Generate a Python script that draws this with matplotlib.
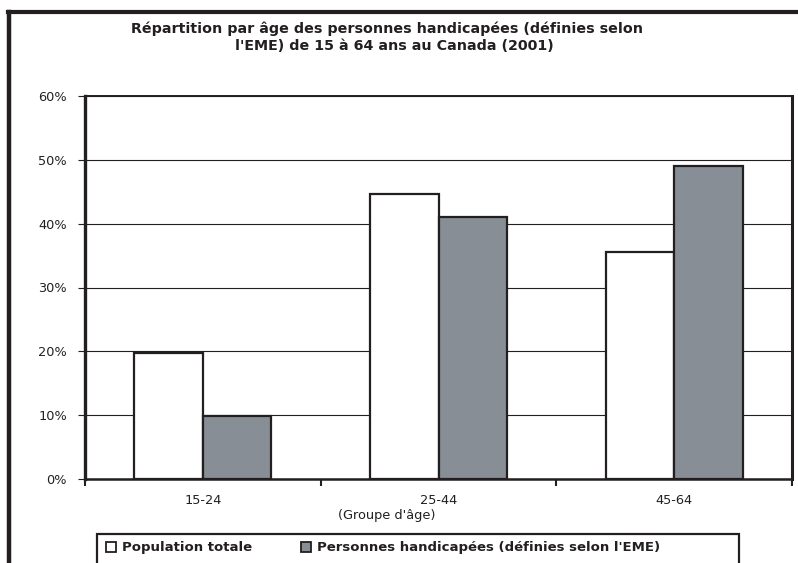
import numpy as np
import matplotlib
matplotlib.use('Agg')
import matplotlib.pyplot as plt
from matplotlib.patches import Patch, Rectangle
from matplotlib.lines import Line2D
from matplotlib.ticker import FixedLocator, FuncFormatter

groupes = ['15-24', '25-44', '45-64']
population_totale = [19.7, 44.7, 35.6]
personnes_handicapees = [9.8, 41.0, 49.1]
yticks = [0, 10, 20, 30, 40, 50, 60]

ink = '#231f20'
gris = '#878e95'

plt.rcParams['font.family'] = ['DejaVu Sans']

fig = plt.figure(figsize=(7.98, 5.63), dpi=100)
ax = fig.add_axes([85/798, 1-479/563, (792-85)/798, (479-96)/563])

x = np.arange(len(groupes))
w = 0.29
ax.bar(x - w/2, population_totale, w, color='white', edgecolor=ink, linewidth=1.6, zorder=3)
ax.bar(x + w/2, personnes_handicapees, w, color=gris, edgecolor=ink, linewidth=1.6, zorder=3)

ax.set_xlim(-0.5, 2.5)
ax.set_ylim(0, 60)
ax.set_yticks(yticks)
ax.yaxis.set_major_formatter(FuncFormatter(lambda v, p: '%d%%' % v))
ax.yaxis.grid(True, color=ink, linewidth=0.8, zorder=0)
ax.set_axisbelow(True)
ax.tick_params(axis='y', length=5, width=0.8, color=ink, pad=8, labelsize=9.3, labelcolor=ink)

ax.xaxis.set_major_locator(FixedLocator([-0.5, 0.5, 1.5, 2.5]))
ax.xaxis.set_major_formatter(FuncFormatter(lambda v, p: ''))
ax.xaxis.set_minor_locator(FixedLocator(x))
ax.set_xticklabels(groupes, minor=True)
ax.tick_params(axis='x', which='major', length=5, width=1.5, color=ink)
ax.tick_params(axis='x', which='minor', length=0, pad=11, labelsize=9.3, labelcolor=ink)

for side, lw in [('left', 2.4), ('bottom', 1.8), ('right', 2.2), ('top', 1.4)]:
    ax.spines[side].set_linewidth(lw)
    ax.spines[side].set_color(ink)

fig.text(387/798, 1-516/563, "(Groupe d'âge)", ha='center', va='center', fontsize=9.3, color=ink)

fig.text(387/798, 1-29/563, "Répartition par âge des personnes handicapées (définies selon",
         ha='center', va='center', fontsize=10.3, fontweight='bold', color=ink)
fig.text(394/798, 1-46/563, "l'EME) de 15 à 64 ans au Canada (2001)",
         ha='center', va='center', fontsize=10.3, fontweight='bold', color=ink)

# cadre extérieur
fig.add_artist(Line2D([8/798, 1.0], [1-12/563, 1-12/563], color=ink, linewidth=3, transform=fig.transFigure))
fig.add_artist(Line2D([9/798, 9/798], [0, 1-12/563], color=ink, linewidth=3.2, transform=fig.transFigure))

# légende
fig.add_artist(Rectangle((97/798, -0.05), (739-97)/798, 0.05 + 1-534/563, fill=False,
                         edgecolor=ink, linewidth=1.6, transform=fig.transFigure))
handles = [Patch(facecolor='white', edgecolor=ink, linewidth=1.3),
           Patch(facecolor=gris, edgecolor=ink, linewidth=1.3)]
labels = ['Population totale', "Personnes handicapées (définies selon l'EME)"]
leg = fig.legend(handles, labels, loc='center left', bbox_to_anchor=(106/798, 1-548/563),
                 ncol=2, frameon=False, borderpad=0, borderaxespad=0,
                 handlelength=0.75, handleheight=0.75, handletextpad=0.45, columnspacing=3.7,
                 prop={'weight': 'bold', 'size': 9.5})
for t in leg.get_texts():
    t.set_color(ink)

fig.savefig('out.png', dpi=100)
